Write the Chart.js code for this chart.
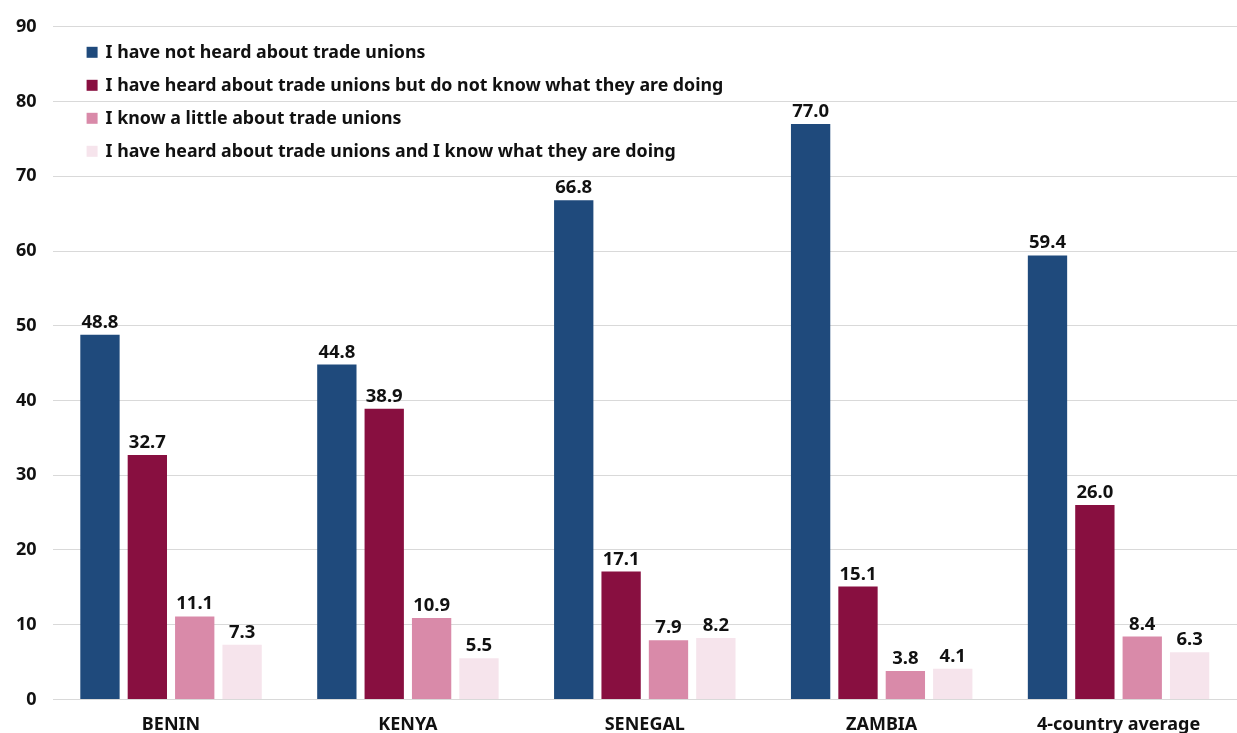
<!DOCTYPE html>
<html>
<head>
<meta charset="utf-8">
<script src="https://cdn.jsdelivr.net/npm/chart.js@4.4.1/dist/chart.umd.min.js"></script>
<style>
  html, body { margin: 0; padding: 0; background: #fff; overflow: hidden; }
  #wrap { position: relative; width: 1237px; height: 751px; }
</style>
</head>
<body>
<div id="wrap"><canvas id="bar-chart"></canvas></div>
<script>
const categories = ["BENIN", "KENYA", "SENEGAL", "ZAMBIA", "4-country average"];

const seriesNames = [
  "I have not heard about trade unions",
  "I have heard about trade unions but do not know what they are doing",
  "I know a little about trade unions",
  "I have heard about trade unions and I know what they are doing"
];

const notHeard = [48.8, 44.8, 66.8, 77.0, 59.4];
const heardNotKnow = [32.7, 38.9, 17.1, 15.1, 26.0];
const knowLittle = [11.1, 10.9, 7.9, 3.8, 8.4];
const heardAndKnow = [7.3, 5.5, 8.2, 4.1, 6.3];

const colors = ["#1f4a7c", "#880f40", "#d98aa9", "#f6e4ec"];

const FONT = "'Noto Sans', 'Open Sans', sans-serif";

// value labels above each bar
const valueLabels = {
  id: "valueLabels",
  afterDatasetsDraw(chart) {
    const ctx = chart.ctx;
    ctx.save();
    ctx.font = "bold 18.5px " + FONT;
    ctx.fillStyle = "#111";
    ctx.textAlign = "center";
    ctx.textBaseline = "bottom";
    chart.data.datasets.forEach((ds, i) => {
      chart.getDatasetMeta(i).data.forEach((bar, j) => {
        ctx.fillText(ds.data[j].toFixed(1), bar.x, bar.y - 3);
      });
    });
    ctx.restore();
  }
};

// stacked legend drawn inside the plot area
const boxLegend = {
  id: "boxLegend",
  afterDraw(chart) {
    const ctx = chart.ctx;
    const left = chart.chartArea.left + 34;
    const top = chart.chartArea.top + 26;
    ctx.save();
    ctx.font = "bold 17.8px " + FONT;
    ctx.textBaseline = "middle";
    ctx.textAlign = "left";
    chart.data.datasets.forEach((ds, i) => {
      const y = top + i * 33;
      ctx.fillStyle = ds.backgroundColor;
      ctx.fillRect(left, y - 6, 11, 11);
      ctx.fillStyle = "#111";
      ctx.fillText(ds.label, left + 19, y);
    });
    ctx.restore();
  }
};

const seriesData = [notHeard, heardNotKnow, knowLittle, heardAndKnow];

new Chart(document.getElementById("bar-chart"), {
  type: "bar",
  data: {
    labels: categories,
    datasets: seriesData.map((data, i) => ({
      label: seriesNames[i],
      data: data,
      backgroundColor: colors[i],
      categoryPercentage: 0.8,
      barPercentage: 0.83
    }))
  },
  options: {
    responsive: true,
    maintainAspectRatio: false,
    animation: false,
    layout: { padding: { top: 16, left: 0, right: 0, bottom: 0 } },
    plugins: {
      legend: { display: false },
      tooltip: { enabled: false }
    },
    scales: {
      x: {
        grid: { display: false, drawTicks: false },
        border: { display: false },
        ticks: {
          color: "#111",
          padding: 15,
          font: { family: FONT, size: 18, weight: "bold" }
        }
      },
      y: {
        min: 0,
        max: 90,
        grid: { color: "#d9d9d9", lineWidth: 1, drawTicks: false },
        border: { display: false },
        ticks: {
          stepSize: 10,
          color: "#111",
          padding: 16,
          font: { family: FONT, size: 18, weight: "bold" }
        }
      }
    }
  },
  plugins: [valueLabels, boxLegend]
});
</script>
</body>
</html>
